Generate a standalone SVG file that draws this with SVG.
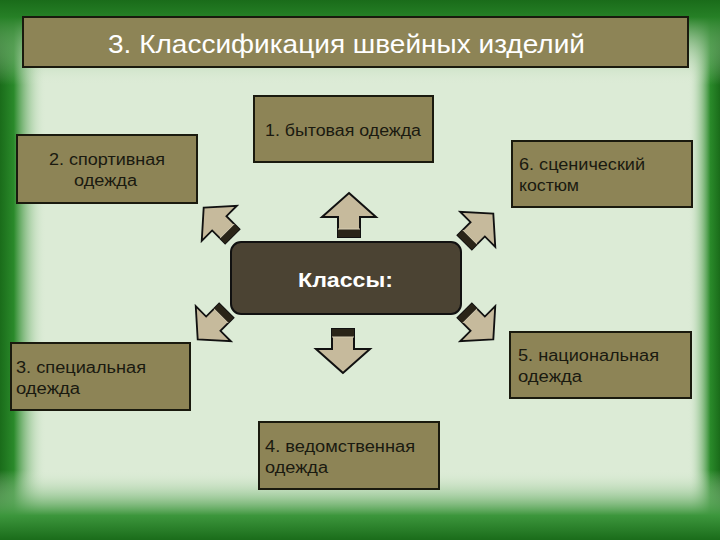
<svg xmlns="http://www.w3.org/2000/svg" width="720" height="540" viewBox="0 0 720 540">
<style>
.box{fill:#8d8456;stroke:#1a1a0e;stroke-width:2}
.t{font-family:"Liberation Sans",Arial,sans-serif;font-size:16px;fill:#1a1a10}
.arr{fill:#c6ba9c;stroke:#111;stroke-width:2;stroke-linejoin:miter}
.sh{fill:#2a2418}
</style>
<defs>
<linearGradient id="gl" x1="0" y1="0" x2="1" y2="0"><stop offset="0" stop-color="#1a6c1a"/><stop offset="0.3" stop-color="#2a8a2a"/><stop offset="1" stop-color="#dcebd6" stop-opacity="0"/></linearGradient>
<linearGradient id="gr" x1="1" y1="0" x2="0" y2="0"><stop offset="0" stop-color="#1a6c1a"/><stop offset="0.3" stop-color="#2a8a2a"/><stop offset="1" stop-color="#dcebd6" stop-opacity="0"/></linearGradient>
<linearGradient id="gt" x1="0" y1="0" x2="0" y2="1"><stop offset="0" stop-color="#1a6c1a"/><stop offset="0.2" stop-color="#268026"/><stop offset="1" stop-color="#dcebd6" stop-opacity="0"/></linearGradient>
<linearGradient id="gb" x1="0" y1="1" x2="0" y2="0"><stop offset="0" stop-color="#1a6c1a"/><stop offset="0.35" stop-color="#3c963c"/><stop offset="1" stop-color="#dcebd6" stop-opacity="0"/></linearGradient>
<g id="arrow">
<polygon class="arr" points="0,-22 27,2 11,2 11,22 -11,22 -11,2 -27,2"/>
<rect class="sh" x="-11" y="14" width="22" height="8"/>
<line x1="-11" y1="14" x2="11" y2="14" stroke="#d8cfb5" stroke-width="1"/>
</g>
</defs>
<rect x="0" y="0" width="720" height="540" fill="#dcebd6"/>
<rect x="0" y="0" width="46" height="540" fill="url(#gl)"/>
<rect x="688" y="0" width="32" height="540" fill="url(#gr)"/>
<rect x="0" y="0" width="720" height="85" fill="url(#gt)"/>
<rect x="0" y="470" width="720" height="70" fill="url(#gb)"/>

<g id="title">
<rect class="box" x="23" y="17" width="665" height="50"/>
<text x="108" y="53" font-family="'Liberation Sans',Arial,sans-serif" font-size="25" fill="#ffffff" textLength="477" lengthAdjust="spacingAndGlyphs">3. Классификация швейных изделий</text>
</g>

<g id="connectors">
<use href="#arrow" transform="translate(349,215)"/>
<use href="#arrow" transform="translate(343,351) rotate(180)"/>
<use href="#arrow" transform="translate(218,222) rotate(-45) scale(0.92)"/>
<use href="#arrow" transform="translate(479,228) rotate(45) scale(0.92)"/>
<use href="#arrow" transform="translate(212,325) rotate(-135) scale(0.92)"/>
<use href="#arrow" transform="translate(479,325) rotate(135) scale(0.92)"/>
</g>

<g id="center">
<rect x="231" y="242" width="230" height="72" rx="10" fill="#4b4333" stroke="#111" stroke-width="2"/>
<text x="298" y="287" font-family="'Liberation Sans',Arial,sans-serif" font-size="21" font-weight="bold" fill="#ffffff" textLength="95" lengthAdjust="spacingAndGlyphs">Классы:</text>
</g>

<g id="n1">
<rect class="box" x="254" y="96" width="179" height="66"/>
<text class="t" x="265" y="136" textLength="156" lengthAdjust="spacingAndGlyphs">1. бытовая одежда</text>
</g>
<g id="n2">
<rect class="box" x="17" y="135" width="180" height="68"/>
<text class="t" x="49" y="165" textLength="116" lengthAdjust="spacingAndGlyphs">2. спортивная</text>
<text class="t" x="74" y="186" textLength="63" lengthAdjust="spacingAndGlyphs">одежда</text>
</g>
<g id="n6">
<rect class="box" x="512" y="141" width="180" height="66"/>
<text class="t" x="519" y="170" textLength="126" lengthAdjust="spacingAndGlyphs">6. сценический</text>
<text class="t" x="519" y="191" textLength="60" lengthAdjust="spacingAndGlyphs">костюм</text>
</g>
<g id="n3">
<rect class="box" x="11" y="343" width="179" height="67"/>
<text class="t" x="16" y="373" textLength="130" lengthAdjust="spacingAndGlyphs">3. специальная</text>
<text class="t" x="16" y="394" textLength="64" lengthAdjust="spacingAndGlyphs">одежда</text>
</g>
<g id="n5">
<rect class="box" x="510" y="332" width="181" height="66"/>
<text class="t" x="518" y="361" textLength="141" lengthAdjust="spacingAndGlyphs">5. национальная</text>
<text class="t" x="518" y="382" textLength="64" lengthAdjust="spacingAndGlyphs">одежда</text>
</g>
<g id="n4">
<rect class="box" x="259" y="422" width="180" height="67"/>
<text class="t" x="265" y="452" textLength="150" lengthAdjust="spacingAndGlyphs">4. ведомственная</text>
<text class="t" x="265" y="473" textLength="63" lengthAdjust="spacingAndGlyphs">одежда</text>
</g>
</svg>
